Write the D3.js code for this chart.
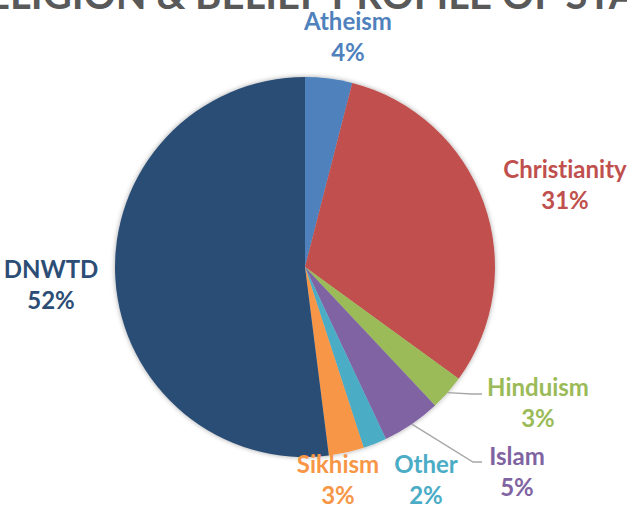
<!DOCTYPE html>
<html>
<head>
<meta charset="utf-8">
<script src="https://cdn.jsdelivr.net/npm/d3@7"></script>
<style>
  html, body { margin: 0; padding: 0; background: #fff; overflow: hidden; }
  svg { display: block; }
  text { font-family: Lato, "Open Sans", sans-serif; font-weight: bold; font-variant-ligatures: none; }
</style>
</head>
<body>
<svg id="chart" width="627" height="508"></svg>
<script>
// Religion & belief breakdown of staff (percent)
const categories = ["Atheism", "Christianity", "Hinduism", "Islam", "Other", "Sikhism", "DNWTD"];
const shares = [4, 31, 3, 5, 2, 3, 52];
const colors = ["#4F81BD", "#C0504D", "#9BBB59", "#8064A2", "#4BACC6", "#F79646", "#2C4D75"];
const title = "RELIGION & BELIEF PROFILE OF STAFF";

const width = 627, height = 508;
const cx = 305, cy = 267, radius = 190;

const svg = d3.select("#chart");

// soft edge shadow around the pie
const defs = svg.append("defs");
const f = defs.append("filter").attr("id", "pieShadow")
  .attr("x", "-10%").attr("y", "-10%").attr("width", "120%").attr("height", "120%");
f.append("feDropShadow").attr("dx", 0).attr("dy", 0).attr("stdDeviation", 2.5)
  .attr("flood-color", "#000").attr("flood-opacity", 0.35);

// title (runs off the top of the frame)
svg.append("text")
  .attr("x", width / 2 + 8).attr("y", 9)
  .attr("text-anchor", "middle")
  .attr("font-size", 40)
  .attr("fill", "#595959")
  .text(title);

const data = categories.map((c, i) => ({ name: c, value: shares[i], color: colors[i] }));
const pie = d3.pie().value(d => d.value).sort(null);
const arcs = pie(data);
const arc = d3.arc().innerRadius(0).outerRadius(radius);

const g = svg.append("g").attr("transform", `translate(${cx},${cy})`);
g.append("g").attr("filter", "url(#pieShadow)")
  .selectAll("path").data(arcs).join("path")
  .attr("d", arc)
  .attr("fill", d => d.data.color);

// label anchors relative to the pie centre (first-line baseline)
const labelLayout = {
  Atheism:      [43, -237],
  Christianity: [260, -89],
  Hinduism:     [233, 129],
  Islam:        [212, 198],
  Other:        [121, 206],
  Sikhism:      [33, 206],
  DNWTD:        [-254, 11]
};

const labels = svg.append("g");
arcs.forEach(a => {
  const [dx, dy] = labelLayout[a.data.name];
  const x = cx + dx, y = cy + dy;
  const t = labels.append("text")
    .attr("text-anchor", "middle")
    .attr("font-size", 24)
    .attr("fill", a.data.color);
  t.append("tspan").attr("x", x).attr("y", y).text(a.data.name);
  t.append("tspan").attr("x", x).attr("y", y + 31).text(d3.format(".0%")(a.data.value / 100));
});

// leader lines for the narrow slices on the right
const leaders = {
  Hinduism: { bend: [472, 394], end: [482, 394] },
  Islam:    { bend: [473, 462], end: [482, 462] }
};
arcs.forEach(a => {
  const ld = leaders[a.data.name];
  if (!ld) return;
  const mid = (a.startAngle + a.endAngle) / 2;
  const sx = cx + radius * Math.sin(mid), sy = cy - radius * Math.cos(mid);
  svg.append("polyline")
    .attr("points", [[sx, sy], ld.bend, ld.end].map(p => p.join(",")).join(" "))
    .attr("fill", "none")
    .attr("stroke", "#A6A6A6")
    .attr("stroke-width", 1.3);
});
</script>
</body>
</html>
